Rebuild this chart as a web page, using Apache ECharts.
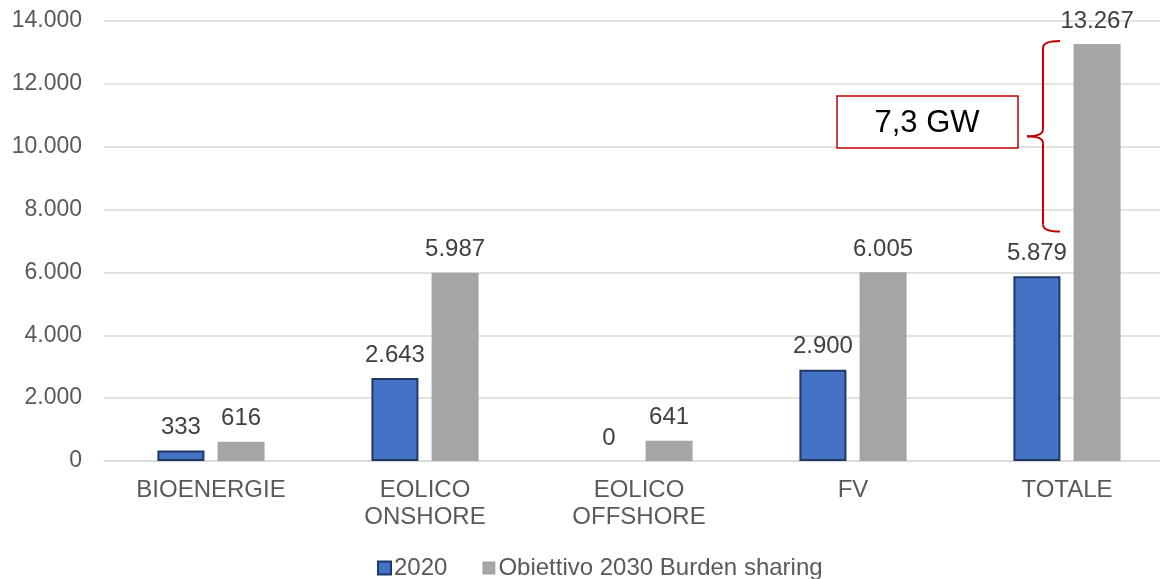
<!DOCTYPE html>
<html>
<head>
<meta charset="utf-8">
<script src="https://cdn.jsdelivr.net/npm/echarts@6/dist/echarts.min.js"></script>
<style>
* { margin: 0; padding: 0; }
#chart { width: 1160px; height: 579px; }
</style>
</head>
<body>
<div id="chart"></div>
<script>
// dati
var categorie = ['BIOENERGIE', 'EOLICO\nONSHORE', 'EOLICO\nOFFSHORE', 'FV', 'TOTALE'];
var valori2020 = [333, 2643, 0, 2900, 5879];
var obiettivo2030 = [616, 5987, 641, 6005, 13267];
var nomiSerie = ['2020', 'Obiettivo 2030 Burden sharing'];
var testoGraffa = '7,3 GW';
var graffaDa = 13267, graffaA = 7300;

function fmt(v) {
  return String(v).replace(/\B(?=(\d{3})+(?!\d))/g, '.');
}

var font = 'Liberation Sans, Arial, sans-serif';
var chart = echarts.init(document.getElementById('chart'));

// le barre a zero non hanno bordo
var dati2020 = valori2020.map(function (v) {
  return v === 0 ? { value: v, itemStyle: { borderWidth: 0 } } : v;
});

var option = {
  animation: false,
  textStyle: { fontFamily: font },
  grid: { left: 104, top: 21, width: 1070, height: 440, outerBoundsMode: 'none', containLabel: false },
  legend: {
    top: 551,
    left: 372,
    itemWidth: 13,
    itemHeight: 13,
    itemGap: 35,
    icon: 'rect',
    textStyle: { fontSize: 24, color: '#595959', fontFamily: font, padding: [0, 0, 0, -2] },
    data: nomiSerie
  },
  xAxis: {
    type: 'category',
    data: categorie,
    axisTick: { show: false },
    axisLine: { lineStyle: { color: '#d9d9d9', width: 1.5 } },
    axisLabel: { fontSize: 24, color: '#595959', margin: 16, lineHeight: 27, fontFamily: font }
  },
  yAxis: {
    type: 'value',
    min: 0,
    max: 14000,
    interval: 2000,
    axisLabel: { fontSize: 23, color: '#595959', margin: 22, fontFamily: font, formatter: fmt },
    splitLine: { lineStyle: { color: '#d9d9d9', width: 1.5 } }
  },
  series: [
    {
      name: nomiSerie[0],
      type: 'bar',
      data: dati2020,
      barWidth: 47,
      barGap: '28%',
      itemStyle: { color: '#4472C4', borderColor: '#1F3864', borderWidth: 2 },
      label: { show: true, position: 'top', distance: 11, fontSize: 24, color: '#404040', fontFamily: font,
        formatter: function (p) { return fmt(p.value); } }
    },
    {
      name: nomiSerie[1],
      type: 'bar',
      data: obiettivo2030,
      barWidth: 47,
      itemStyle: { color: '#A5A5A5' },
      label: { show: true, position: 'top', distance: 11, fontSize: 24, color: '#404040', fontFamily: font,
        formatter: function (p) { return fmt(p.value); } }
    }
  ]
};
chart.setOption(option);

// graffa e riquadro annotazione
var yTop = chart.convertToPixel({ yAxisIndex: 0 }, graffaDa) - 3;
var yBot = chart.convertToPixel({ yAxisIndex: 0 }, graffaA);
var yMid = (yTop + yBot) / 2;
var xs = 1043, xr = 1060, xp = 1027, r = 7;
var rosso = { fill: null, stroke: '#C00000', lineWidth: 2 };

chart.setOption({
  graphic: [
    { type: 'bezierCurve', shape: { x1: xr, y1: yTop, cpx1: xs, cpy1: yTop, x2: xs, y2: yTop + r }, style: rosso },
    { type: 'line', shape: { x1: xs, y1: yTop + r, x2: xs, y2: yMid - r }, style: rosso },
    { type: 'bezierCurve', shape: { x1: xs, y1: yMid - r, cpx1: xs, cpy1: yMid, x2: xp, y2: yMid }, style: rosso },
    { type: 'bezierCurve', shape: { x1: xp, y1: yMid, cpx1: xs, cpy1: yMid, x2: xs, y2: yMid + r }, style: rosso },
    { type: 'line', shape: { x1: xs, y1: yMid + r, x2: xs, y2: yBot - r }, style: rosso },
    { type: 'bezierCurve', shape: { x1: xs, y1: yBot - r, cpx1: xs, cpy1: yBot, x2: xr, y2: yBot }, style: rosso },
    {
      type: 'rect',
      shape: { x: 837, y: 96, width: 181, height: 52 },
      style: { fill: '#fff', stroke: '#C00000', lineWidth: 1.5 }
    },
    {
      type: 'text',
      x: 927, y: 123,
      style: { text: testoGraffa, fill: '#000', font: '31px ' + font, align: 'center', verticalAlign: 'middle' }
    }
  ]
});
</script>
</body>
</html>
